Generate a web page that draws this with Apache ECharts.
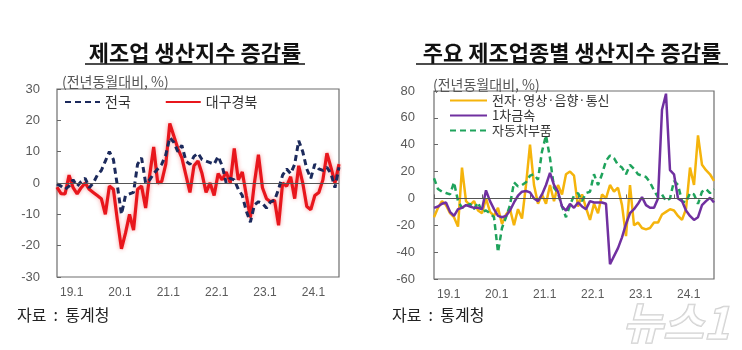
<!DOCTYPE html>
<html>
<head>
<meta charset="utf-8">
<script src="https://cdn.jsdelivr.net/npm/echarts@6/dist/echarts.min.js"></script>
<style>
  html, body { margin: 0; padding: 0; background: #fff; }
  #chart { width: 742px; height: 350px; }
</style>
</head>
<body>
<div id="chart"></div>
<script>
// Monthly categories, 2019.1 – 2024.11 (labelled as "yy.m")
const months = [];
for (let y = 19; y <= 24; y++) {
  for (let m = 1; m <= 12; m++) {
    if (y === 24 && m > 11) break;
    months.push(y + '.' + m);
  }
}
const yearTickLabels = ['19.1', '20.1', '21.1', '22.1', '23.1', '24.1'];

// 제조업 생산지수 증감률 (전년동월대비, %)
const nationwide = [
  -0.3, -1, -2, -1, 1, -1, 0.5, 1.5, -1.5, 0,
  2.5, 4, 7, 10, 7.5, -1, -10, -4, -3.5, -3,
  6, 8, 0, 1, 3, 4.5, 6, 9, 14.5, 13,
  10, 12, 7, 6, 8.5, 9.5, 7.5, 7, 6.5, 6,
  8.5, 5.5, 0, 1.5, 1, -2, -4, -9, -12.5, -7,
  -6, -6.5, -8, -6, -5.5, -2, 2.5, 4.5, 3, 6,
  13.5, 10, 4.5, 1.5, 6, 4.5, 4, 5, 3, -1.5,
  5
];
const daeguGyeongbuk = [
  -1.3, -3.4, -3.5, 2.5, -1.5, -3.5, -1.5, 0, -2, -3,
  -4, -5, -10, -1, -2, -12, -21, -16, -10, -15,
  -2, -1, -8, 2.5, 11.5, 0, 0.5, 6, 19, 15,
  11, 8, 2.5, -3, 5.5, 7, 3, -3, 0, -4,
  3, 1, 3.5, 0, 11, 1, 3.5, -4, -11, 0,
  9, -1.5, -5, -6, -5.5, -13.5, 0, -1, 2, -5,
  5.5, 0, -7.5, -8.5, -4, -3, 1, 9.5, 5, 0,
  6
];

// 주요 제조업종별 생산지수 증감률 (전년동월대비, %)
const electronics = [
  -14, -7, -2, -5, -11, -14, -21, 23, -2, -5,
  -2, -9, -11, 0, -10, -13, -7, -19, -12, -8,
  -20, -8, -15, 10, 40, 10, -4, 3, -4, 10,
  -2, 10, 3, 18, 20, 17, -6, 3, -7, -16,
  -4, -11, 3, 0, 10, 5, 8, -5, -28, 10,
  -20, -18, -22, -23, -22, -18, -18, -12, -10, -8,
  -9, -13, -16, -8, 23, 10, 47, 25, 21, 18,
  13
];
const primaryMetals = [
  -7, -6, -4, -3, -10, -13, -8, -7, -5, -6,
  -7, -7, -8, 6, -2, -8, -13, -14, -13, -9,
  -3, 2, 5, 5.5, 4.5, 0, -2, 3, 10, 19,
  10, 5, -6, -9, -4, -7, -3, -6, -8, -2,
  -3, -3, -3, -4, -49, -43, -37, -29, -19, -11,
  -8, -4, 1, -5, -7, -7, 0, 66, 78, 21,
  18, 0, -2, -9, -13, -16, -14, -5, -2, 0.5,
  -3
];
const autoParts = [
  15, 7, 5, 4, 3, 12, -2, -7, -6, -4,
  -8, -3, -10, -9, -11, -14, -40, -22, -14, -5,
  12, 9, 10, 12, 17, 18, 14, 35, 47, 30,
  8, 4, -6, -14, -5, 2, 4, -2, 4, 5,
  18, 10, 18, 28, 32, 30, 25, 23, 18, 25,
  22, 18, 17, 16, 12, 6, 1, 3, -2, 0,
  13, 10, -2, -3, 4, 3, -4, 5, 7, 4,
  7
];

const FONT = '"Liberation Sans", "Noto Sans CJK KR", sans-serif';
const KFONT = '"Noto Sans CJK KR", sans-serif';
const LABEL_COLOR = '#5a5a5a';

function xAxisFor(gridIndex, withTicks) {
  return {
    gridIndex: gridIndex,
    type: 'category',
    data: months,
    boundaryGap: false,
    axisLine: { show: false },
    axisTick: {
      show: withTicks, inside: true, length: 4, interval: 11,
      lineStyle: { color: '#666', width: 1 }
    },
    axisLabel: {
      interval: 11,
      align: 'left',
      padding: [0, 0, 0, 3],
      margin: 10,
      color: LABEL_COLOR,
      fontSize: 12,
      fontFamily: FONT,
      formatter: function (v) { return yearTickLabels.indexOf(v) >= 0 ? v : ''; }
    },
    splitLine: { show: false }
  };
}

function yAxisFor(gridIndex, min, max, interval, margin) {
  return {
    gridIndex: gridIndex,
    type: 'value',
    min: min, max: max, interval: interval,
    axisLine: { show: false },
    axisTick: { show: true, inside: true, length: 4, lineStyle: { color: '#666', width: 1 } },
    splitLine: { show: false },
    axisLabel: { margin: margin, color: LABEL_COLOR, fontSize: 13, fontFamily: FONT }
  };
}

const zeroLine = {
  silent: true,
  symbol: 'none',
  label: { show: false },
  lineStyle: { color: '#555', width: 1, type: 'solid' },
  data: [{ yAxis: 0 }]
};

const chart = echarts.init(document.getElementById('chart'), null, { renderer: 'canvas' });

chart.setOption({
  animation: false,
  backgroundColor: '#fff',
  grid: [
    { left: 57, top: 89, width: 282, height: 188, show: true, borderColor: '#6e6e6e', borderWidth: 1.2, backgroundColor: 'transparent' },
    { left: 434, top: 91, width: 280, height: 188, show: true, borderColor: '#6e6e6e', borderWidth: 1.2, backgroundColor: 'transparent' }
  ],
  xAxis: [xAxisFor(0, false), xAxisFor(1, true)],
  yAxis: [yAxisFor(0, -30, 30, 10, 17), yAxisFor(1, -60, 80, 20, 19)],
  legend: [
    {
      left: 64, top: 95, padding: 0,
      itemWidth: 35, itemHeight: 12, itemGap: 34,
      itemStyle: { opacity: 0 },
      textStyle: { fontSize: 14, lineHeight: 14, color: '#333', fontFamily: KFONT },
      data: ['전국', '대구경북']
    },
    {
      left: 449, top: 94, orient: 'vertical', padding: 0,
      itemWidth: 37, itemHeight: 12, itemGap: 2,
      itemStyle: { opacity: 0 },
      textStyle: { fontSize: 13, lineHeight: 12, color: '#333', fontFamily: KFONT },
      data: ['전자·영상·음향·통신', '1차금속', '자동차부품']
    }
  ],
  series: [
    {
      name: '대구경북', type: 'line', xAxisIndex: 0, yAxisIndex: 0,
      data: daeguGyeongbuk, symbol: 'none', z: 2,
      itemStyle: { color: '#e8161c' },
      lineStyle: { color: '#e8161c', width: 3.2, shadowBlur: 4, shadowColor: 'rgba(240,40,40,0.45)' },
      markLine: zeroLine
    },
    {
      name: '전국', type: 'line', xAxisIndex: 0, yAxisIndex: 0,
      data: nationwide, symbol: 'none', z: 3,
      itemStyle: { color: '#1c2a5c' },
      lineStyle: { color: '#1c2a5c', width: 3, type: [6, 4] }
    },
    {
      name: '전자·영상·음향·통신', type: 'line', xAxisIndex: 1, yAxisIndex: 1,
      data: electronics, symbol: 'none', z: 2,
      itemStyle: { color: '#f5b40c' },
      lineStyle: { color: '#f5b40c', width: 2.5 },
      markLine: zeroLine
    },
    {
      name: '자동차부품', type: 'line', xAxisIndex: 1, yAxisIndex: 1,
      data: autoParts, symbol: 'none', z: 3,
      itemStyle: { color: '#1fa35c' },
      lineStyle: { color: '#1fa35c', width: 2.5, type: [6, 4] }
    },
    {
      name: '1차금속', type: 'line', xAxisIndex: 1, yAxisIndex: 1,
      data: primaryMetals, symbol: 'none', z: 4,
      itemStyle: { color: '#7030a0' },
      lineStyle: { color: '#7030a0', width: 2.5 }
    }
  ],
  graphic: [
    { type: 'text', x: 195, y: 53, style: { text: '제조업 생산지수 증감률', font: 'bold 22px ' + KFONT, fill: '#111', align: 'center', verticalAlign: 'middle' } },
    { type: 'line', shape: { x1: 85, y1: 64, x2: 305, y2: 64 }, style: { stroke: '#111', lineWidth: 1.5 } },
    { type: 'text', x: 572, y: 53, style: { text: '주요 제조업종별 생산지수 증감률', font: 'bold 22px ' + KFONT, fill: '#111', align: 'center', verticalAlign: 'middle' } },
    { type: 'line', shape: { x1: 416, y1: 64, x2: 728, y2: 64 }, style: { stroke: '#111', lineWidth: 1.5 } },
    { type: 'text', x: 62, y: 82, style: { text: '(전년동월대비, %)', font: '14px ' + KFONT, fill: '#555', align: 'left', verticalAlign: 'middle' } },
    { type: 'text', x: 433, y: 85, style: { text: '(전년동월대비, %)', font: '14px ' + KFONT, fill: '#555', align: 'left', verticalAlign: 'middle' } },
    { type: 'text', x: 17, y: 315, style: { text: '자료  :  통계청', font: '16px ' + KFONT, fill: '#222', align: 'left', verticalAlign: 'middle' } },
    { type: 'text', x: 392, y: 315, style: { text: '자료  :  통계청', font: '16px ' + KFONT, fill: '#222', align: 'left', verticalAlign: 'middle' } },
    { type: 'text', x: 676, y: 322, z: 10, style: { text: '뉴스1', font: 'italic bold 44px ' + KFONT, fill: 'rgba(255,255,255,0.35)', stroke: 'rgba(150,150,150,0.45)', lineWidth: 1.5, align: 'center', verticalAlign: 'middle' } }
  ]
});
</script>
</body>
</html>
